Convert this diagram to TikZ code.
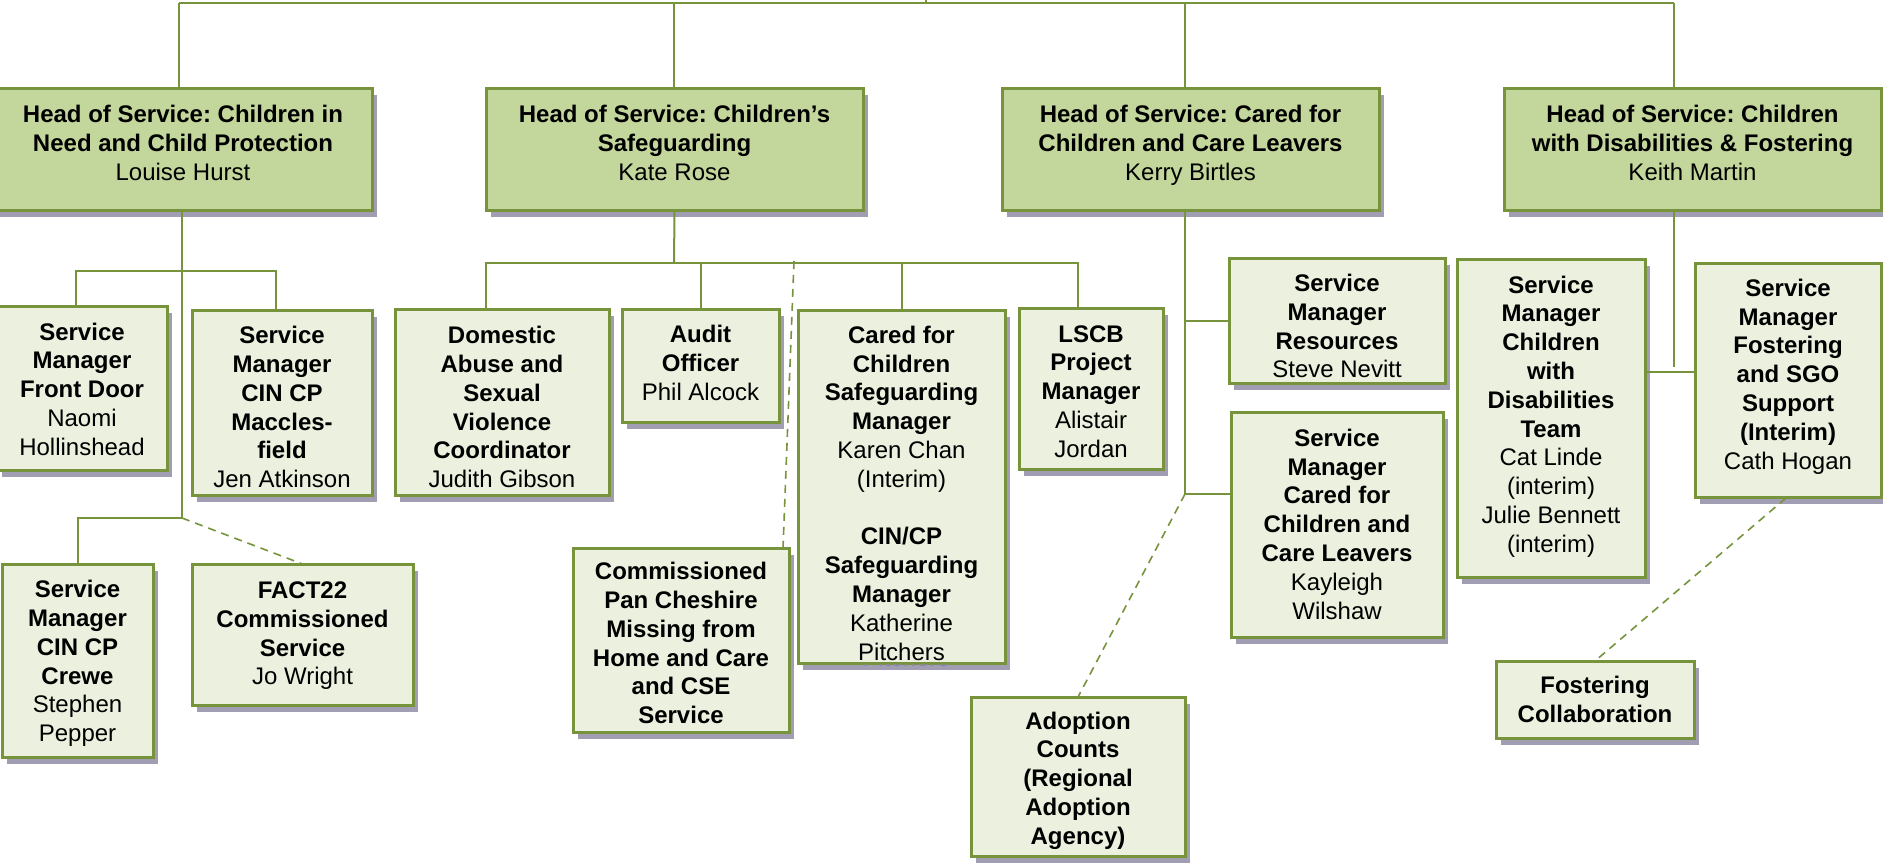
\documentclass[tikz,border=0pt]{standalone}
\usepackage{fontspec}
\setmainfont{Liberation Sans}
\usetikzlibrary{shadows}
\frenchspacing
\definecolor{olive}{RGB}{119,147,60}
\definecolor{headfill}{RGB}{195,214,155}
\definecolor{subfill}{RGB}{235,241,222}
\definecolor{shadowc}{RGB}{161,157,179}
\definecolor{ghostc}{RGB}{140,136,160}
\tikzset{
  orgbox/.style={rectangle, draw=olive, line width=1.5pt, inner sep=0pt, outer sep=0pt,
    drop shadow={shadow xshift=2.25pt, shadow yshift=-3.25pt, fill=shadowc, opacity=1}},
  headbox/.style={orgbox, fill=headfill},
  subbox/.style={orgbox, fill=subfill},
  txt/.style={align=center, inner sep=0pt, font=\fontsize{12}{14.4}\selectfont\frenchspacing},
  link/.style={draw=olive, line width=1pt},
  dlink/.style={draw=olive, line width=0.8pt, dash pattern=on 4pt off 3pt}
}
\begin{document}
\begin{tikzpicture}[x=0.5pt, y=-0.5pt]
\useasboundingbox (0,0) rectangle (1883,865);
\fill[white] (0,0) rectangle (1883,865);

% ---------- head boxes ----------
\node[headbox, minimum width=191pt, minimum height=61pt] (h1) at (181,150) {};
\node[headbox, minimum width=188.5pt, minimum height=61pt] (h2) at (674.5,150) {};
\node[headbox, minimum width=188.5pt, minimum height=61pt] (h3) at (1190.5,150) {};
\node[headbox, minimum width=188.5pt, minimum height=61pt] (h4) at (1692.5,150) {};
\node[txt] (h1t) at (183,146) {\strut\textbf{Head of Service: Children in}\\\textbf{Need and Child Protection}\\Louise Hurst\strut};
\node[txt] (h2t) at (674.5,146) {\strut\textbf{Head of Service: Children’s}\\\textbf{Safeguarding}\\Kate Rose\strut};
\node[txt] (h3t) at (1190.5,146) {\strut\textbf{Head of Service: Cared for}\\\textbf{Children and Care Leavers}\\Kerry Birtles\strut};
\node[txt] (h4t) at (1692.5,146) {\strut\textbf{Head of Service: Children}\\\textbf{with Disabilities \& Fostering}\\Keith Martin\strut};

% ---------- sub boxes ----------
\node[subbox, minimum width=85pt, minimum height=82pt] (fd) at (82,389) {};
\node[txt] (fdt) at (82,392) {\strut\textbf{Service}\\\textbf{Manager}\\\textbf{Front Door}\\Naomi\\Hollinshead\strut};

\node[subbox, minimum width=90pt, minimum height=92.5pt] (mac) at (282,403.5) {};
\node[txt] (mact) at (282,410) {\strut\textbf{Service}\\\textbf{Manager}\\\textbf{CIN CP}\\\textbf{Maccles-}\\\textbf{field}\\Jen Atkinson\strut};

\node[subbox, minimum width=75.5pt, minimum height=96.5pt] (crewe) at (77.5,660.5) {};
\node[txt] (crewet) at (77.5,664) {\strut\textbf{Service}\\\textbf{Manager}\\\textbf{CIN CP}\\\textbf{Crewe}\\Stephen\\Pepper\strut};

\node[subbox, minimum width=110.5pt, minimum height=70.5pt] (fact) at (302.5,634.5) {};
\node[txt] (factt) at (302.5,636) {\strut\textbf{FACT22}\\\textbf{Commissioned}\\\textbf{Service}\\Jo Wright\strut};

\node[subbox, minimum width=107pt, minimum height=93pt] (da) at (502,403) {};
\node[txt] (dat) at (502,410) {\strut\textbf{Domestic}\\\textbf{Abuse and}\\\textbf{Sexual}\\\textbf{Violence}\\\textbf{Coordinator}\\Judith Gibson\strut};

\node[subbox, minimum width=78.5pt, minimum height=56.5pt] (audit) at (700.5,366.5) {};
\node[txt] (auditt) at (700.5,366) {\strut\textbf{Audit}\\\textbf{Officer}\\Phil Alcock\strut};

\node[subbox, minimum width=108pt, minimum height=92pt] (comm) at (681,640) {};
\node[txt] (commt) at (681,646) {\strut\textbf{Commissioned}\\\textbf{Pan Cheshire}\\\textbf{Missing from}\\\textbf{Home and Care}\\\textbf{and CSE}\\\textbf{Service}\strut};

\node[subbox, minimum width=103.5pt, minimum height=176pt] (cfc) at (901.5,487) {};
\begin{scope}
  \clip (790,664.5) rectangle (1020,700);
  \node[txt, text=ghostc] (cfcg) at (906,661) {\strut Pitchers\strut};
\end{scope}
\node[txt] (cfct) at (901.5,496) {\strut\textbf{Cared for}\\\textbf{Children}\\\textbf{Safeguarding}\\\textbf{Manager}\\Karen Chan\\(Interim)\\[14.4pt]\textbf{CIN/CP}\\\textbf{Safeguarding}\\\textbf{Manager}\\Katherine\\Pitchers\strut};

\node[subbox, minimum width=72pt, minimum height=80.5pt] (lscb) at (1091,389.5) {};
\node[txt] (lscbt) at (1091,394) {\strut\textbf{LSCB}\\\textbf{Project}\\\textbf{Manager}\\Alistair\\Jordan\strut};

\node[subbox, minimum width=108pt, minimum height=62.5pt] (res) at (1337,321.5) {};
\node[txt] (rest) at (1337,329) {\strut\textbf{Service}\\\textbf{Manager}\\\textbf{Resources}\\Steve Nevitt\strut};

\node[subbox, minimum width=106pt, minimum height=112pt] (ccl) at (1337,525) {};
\node[txt] (cclt) at (1337,527) {\strut\textbf{Service}\\\textbf{Manager}\\\textbf{Cared for}\\\textbf{Children and}\\\textbf{Care Leavers}\\Kayleigh\\Wilshaw\strut};

\node[subbox, minimum width=107pt, minimum height=79.5pt] (adopt) at (1078,776.5) {};
\node[txt] (adoptt) at (1078,781) {\strut\textbf{Adoption}\\\textbf{Counts}\\\textbf{(Regional}\\\textbf{Adoption}\\\textbf{Agency)}\strut};

\node[subbox, minimum width=94pt, minimum height=158.5pt] (cwd) at (1551,418.5) {};
\node[txt] (cwdt) at (1551,417) {\strut\textbf{Service}\\\textbf{Manager}\\\textbf{Children}\\\textbf{with}\\\textbf{Disabilities}\\\textbf{Team}\\Cat Linde\\(interim)\\Julie Bennett\\(interim)\strut};

\node[subbox, minimum width=93pt, minimum height=117pt] (fsgo) at (1788,381) {};
\node[txt] (fsgot) at (1788,377) {\strut\textbf{Service}\\\textbf{Manager}\\\textbf{Fostering}\\\textbf{and SGO}\\\textbf{Support}\\\textbf{(Interim)}\\Cath Hogan\strut};

\node[subbox, minimum width=99pt, minimum height=38.5pt] (fcol) at (1595,699.5) {};
\node[txt] (fcolt) at (1595,702) {\strut\textbf{Fostering}\\\textbf{Collaboration}\strut};

% ---------- connectors ----------
\coordinate (topL) at (179,3);
\coordinate (topM) at (926,3);
\coordinate (topUp) at (926,0);
\coordinate (j2) at (674,3);
\coordinate (j3) at (1185,3);
\coordinate (topR) at (1674,3);
\draw[link] (topL) -- (topR);
\draw[link] (topM) -- (topUp);
\draw[link] (topL) -- (topL |- h1.north);
\draw[link] (j2) -- (j2 |- h2.north);
\draw[link] (j3) -- (j3 |- h3.north);
\draw[link] (topR) -- (topR |- h4.north);

% head 1
\coordinate (k1) at (182,518);
\coordinate (m1) at (76,271);
\coordinate (m2) at (276,271);
\draw[link] (k1 |- h1.south) -- (k1) -| (crewe.north);
\draw[link] (m1 |- fd.north) -- (m1) -- (m2) -- (m2 |- mac.north);
\draw[dlink] (k1) -- (fact.north);

% head 2
\coordinate (s2) at (674,263);
\coordinate (n1) at (486,263);
\coordinate (n4) at (1078,263);
\coordinate (dc) at (794,261);
\draw[link] (h2.south) -- (s2);
\draw[link] (n1 |- da.north) -- (n1) -- (n4) -- (n4 |- lscb.north);
\draw[link] (audit.north |- s2) -- (audit.north);
\draw[link] (cfc.north |- s2) -- (cfc.north);
\draw[dlink] (dc) -- ([xshift=-3pt]comm.north east);

% head 3
\coordinate (r1) at (1185,321);
\coordinate (r2) at (1185,494);
\draw[link] (r2 |- h3.south) -- (r2);
\draw[link] (r1) -- (r1 -| res.west);
\draw[link] (r2) -- (r2 -| ccl.west);
\draw[dlink] (r2) -- (adopt.north);

% head 4
\coordinate (q1) at (1674,367);
\coordinate (q2) at (1670,372);
\draw[link] (q1 |- h4.south) -- (q1);
\draw[link] (q2 -| cwd.east) -- (q2 -| fsgo.west);
\draw[dlink] ([xshift=-1pt]fsgo.south) -- (fcol.north);
\end{tikzpicture}
\end{document}
